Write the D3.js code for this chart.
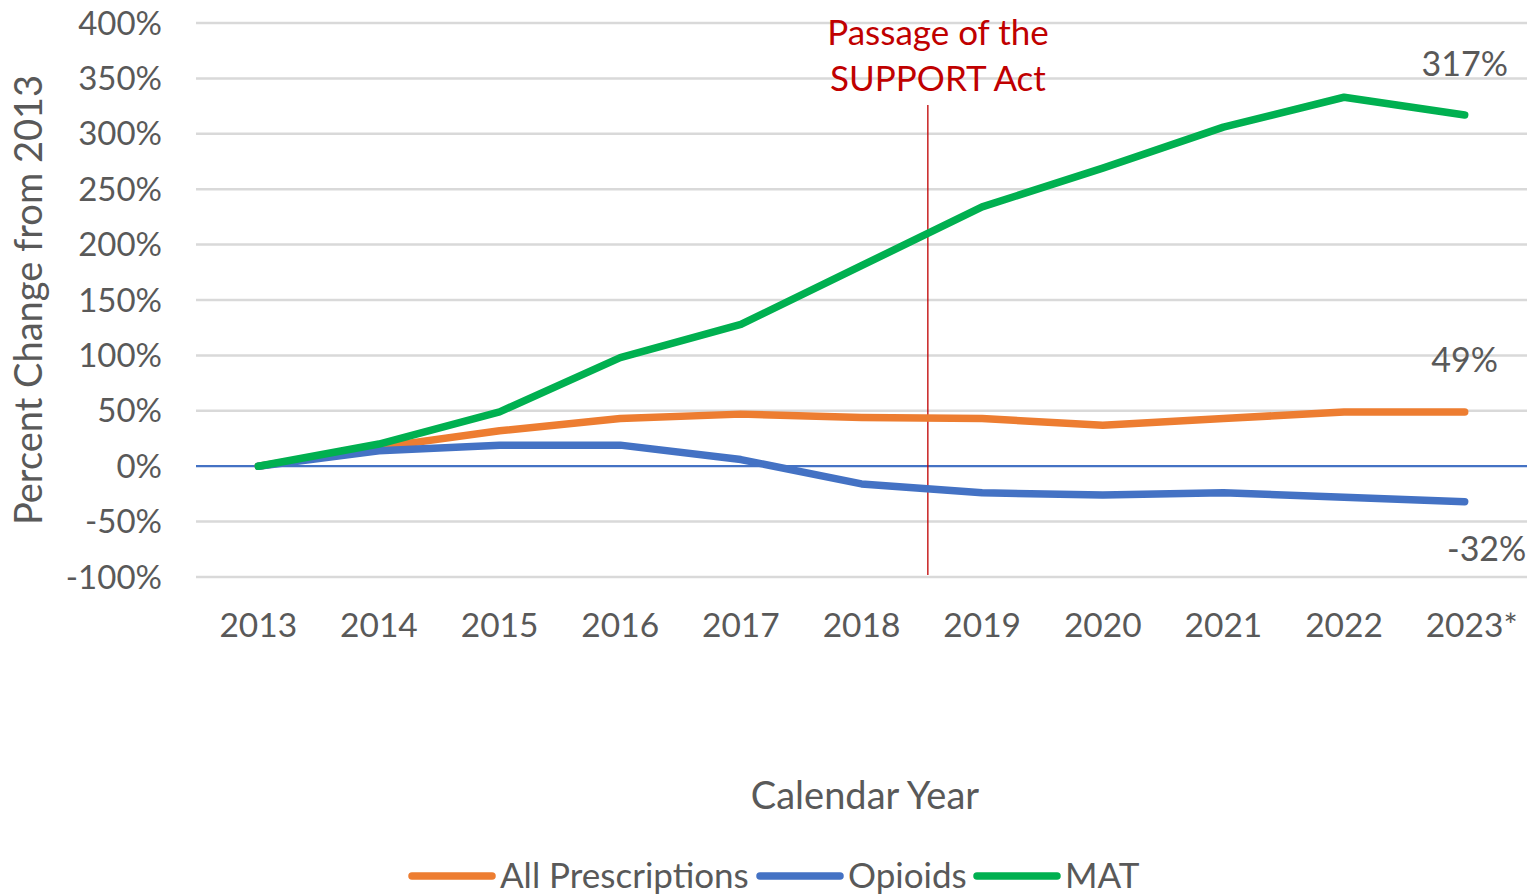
<!DOCTYPE html>
<html><head><meta charset="utf-8">
<script src="https://cdn.jsdelivr.net/npm/d3@7"></script>
<style>
html,body{margin:0;padding:0;background:#fff;}
svg{display:block;}
text{font-family:Lato,"Open Sans",sans-serif;}
</style></head>
<body>
<svg id="chart" width="1527" height="894"></svg>
<script>
const years = ["2013","2014","2015","2016","2017","2018","2019","2020","2021","2022","2023*"];
const allPrescriptions = [0,17,32,43,47,44,43,37,43,49,49];
const opioids = [0,14,19,19,6,-16,-24,-26,-24,-28,-32];
const mat = [0,20,49,98,128,181,234,269,306,333,317];
const yTicks = [-100,-50,0,50,100,150,200,250,300,350,400];
const seriesNames = ["All Prescriptions","Opioids","MAT"];
const endLabels = ["49%","-32%","317%"];
const eventPosition = 5.55; // index position between 2018 and 2019
const eventLabel = ["Passage of the","SUPPORT Act"];

(function(){
const colors = ["#ED7D31","#4472C4","#00B050"];
const seriesData = [allPrescriptions, opioids, mat];

const svg = d3.select("#chart");
const pLeft = 198, pRight = 1525, pTop = 23, pBottom = 577;
const x = d3.scalePoint().domain(years).range([pLeft, pRight]).padding(0.5);
const step = x.step();
const y = d3.scaleLinear().domain([-100,400]).range([pBottom, pTop]);
const textColor = "#595959";

svg.append("g").selectAll("line").data(yTicks.filter(d=>d!==0)).join("line")
  .attr("x1", 196).attr("x2", 1527)
  .attr("y1", d=>y(d)).attr("y2", d=>y(d))
  .attr("stroke", "#d9d9d9").attr("stroke-width", 2.5);
svg.append("line").attr("x1",196).attr("x2",1527).attr("y1",y(0)).attr("y2",y(0))
  .attr("stroke","#4472C4").attr("stroke-width",2.2);

svg.append("g").selectAll("text").data(yTicks).join("text")
  .attr("x", 162).attr("y", d=>y(d)+11.5)
  .attr("text-anchor","end").attr("font-size",33).attr("fill",textColor)
  .text(d=>d+"%");

svg.append("g").selectAll("text").data(years).join("text")
  .attr("x", d=>x(d)+ (d==="2023*"?7:0)).attr("y", 637)
  .attr("text-anchor","middle").attr("font-size",33.5).attr("fill",textColor)
  .text(d=>d);

svg.append("text").attr("transform","translate(42,300) rotate(-90)")
  .attr("text-anchor","middle").attr("font-size",38).attr("fill",textColor)
  .text("Percent Change from 2013");
svg.append("text").attr("x",865).attr("y",809)
  .attr("text-anchor","middle").attr("font-size",38).attr("fill",textColor)
  .text("Calendar Year");

const ex = x(years[0]) + eventPosition*step;
svg.append("line").attr("x1",ex).attr("x2",ex).attr("y1",105).attr("y2",575)
  .attr("stroke","#C00000").attr("stroke-width",1.3);
svg.append("g").selectAll("text").data(eventLabel).join("text")
  .attr("x", 938).attr("y",(d,i)=>45+i*46)
  .attr("text-anchor","middle").attr("font-size",35).attr("fill","#C00000")
  .text(d=>d);

const line = d3.line().x((d,i)=>x(years[i])).y(d=>y(d)).curve(d3.curveLinear);
[0,1,2].forEach(k=>{
  svg.append("path").datum(seriesData[k]).attr("d",line)
    .attr("fill","none").attr("stroke",colors[k]).attr("stroke-width",7.5)
    .attr("stroke-linecap","round").attr("stroke-linejoin","round");
});

const lastX = x(years[years.length-1]);
const labelPos = [[lastX, y(allPrescriptions[10])-40],[lastX+22, y(opioids[10])+59],[lastX, y(mat[10])-39]];
[0,1,2].forEach(k=>{
  svg.append("text").attr("x",labelPos[k][0]).attr("y",labelPos[k][1])
    .attr("text-anchor","middle").attr("font-size",34).attr("fill",textColor)
    .text(endLabels[k]);
});

const legendItems = [
  {name:seriesNames[0], c:colors[0], x1:412, x2:492, tx:500},
  {name:seriesNames[1], c:colors[1], x1:760, x2:840, tx:848},
  {name:seriesNames[2], c:colors[2], x1:977, x2:1057, tx:1065}
];
const lg = svg.append("g");
legendItems.forEach(it=>{
  lg.append("line").attr("x1",it.x1).attr("x2",it.x2).attr("y1",876).attr("y2",876)
    .attr("stroke",it.c).attr("stroke-width",7.5).attr("stroke-linecap","round");
  lg.append("text").attr("x",it.tx).attr("y",888).attr("font-size",35).attr("fill",textColor)
    .text(it.name);
});
})();
</script>
</body></html>
